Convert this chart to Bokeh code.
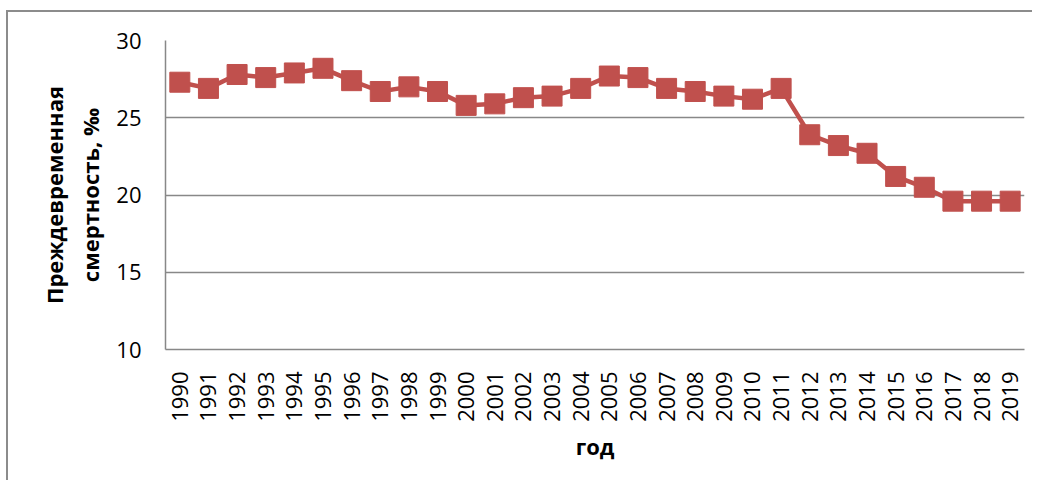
from bokeh.plotting import figure
from bokeh.models import FactorRange, Range1d, FixedTicker
from bokeh.embed import file_html
from bokeh.resources import INLINE

years = [str(y) for y in range(1990, 2020)]
values = [27.3, 26.9, 27.8, 27.6, 27.9, 28.2, 27.4, 26.7, 27.0, 26.7,
          25.8, 25.9, 26.3, 26.4, 26.9, 27.7, 27.6, 26.9, 26.7, 26.4,
          26.2, 26.9, 23.9, 23.2, 22.7, 21.2, 20.5, 19.6, 19.6, 19.6]
y_ticks = [10, 15, 20, 25, 30]
y_label = "Преждевременная\nсмертность, ‰"
x_label = "год"

RED = "#C0504D"
GRID = "#888888"
FONT = "Open Sans"

p = figure(x_range=FactorRange(*years, range_padding=0),
           y_range=Range1d(10, 30),
           width=1026, height=470, output_backend="svg", toolbar_location=None,
           min_border_left=157, min_border_right=10, min_border_top=28, min_border_bottom=133)
p.margin = (10, 0, 0, 6)
p.styles = {"border-left": "2px solid #8c8c8c", "border-top": "2px solid #8c8c8c"}
p.outline_line_color = None

p.line(years, values, line_color=RED, line_width=4.5)
p.scatter(years, values, marker="square", size=20, fill_color=RED, line_color=RED, line_width=1)

p.xgrid.grid_line_color = None
p.ygrid.grid_line_color = GRID
p.ygrid.grid_line_width = 1.5
p.yaxis.ticker = FixedTicker(ticks=y_ticks)

for ax in (p.xaxis[0], p.yaxis[0]):
    ax.axis_line_color = GRID
    ax.axis_line_width = 1.5
    ax.major_tick_line_color = None
    ax.minor_tick_line_color = None
    ax.major_tick_out = 0
    ax.major_tick_in = 0
    ax.major_label_text_font = FONT
    ax.major_label_text_font_size = "22px"
    ax.major_label_text_color = "#000000"
    ax.axis_label_text_font = FONT
    ax.axis_label_text_font_style = "bold"
    ax.axis_label_text_font_size = "22px"
    ax.axis_label_text_color = "#000000"

p.yaxis.axis_label = y_label
p.yaxis.major_label_standoff = 24
p.yaxis.axis_label_standoff = 8
p.xaxis.axis_label = x_label
p.xaxis.major_label_orientation = 3.14159265 / 2
p.xaxis.major_label_standoff = 22
p.xaxis.axis_label_standoff = 6

open("out.html", "w").write(file_html(p, INLINE))
